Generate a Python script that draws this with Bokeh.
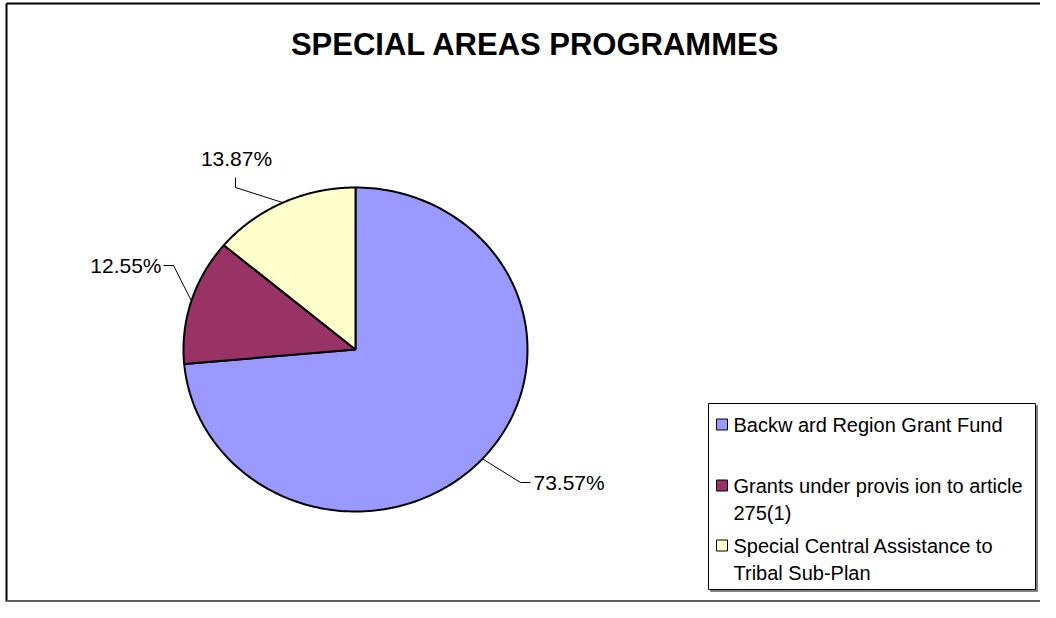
import numpy as np
from bokeh.plotting import figure
from bokeh.models import Range1d
from bokeh.core.properties import value
from bokeh.embed import file_html
from bokeh.resources import INLINE

# ---------------- data ----------------
title = "SPECIAL AREAS PROGRAMMES"
categories = ["Backw ard Region Grant Fund",
              "Grants under provis ion to article 275(1)",
              "Special Central Assistance to Tribal Sub-Plan"]
shares = [73.57, 12.55, 13.87]
pct_labels = ["73.57%", "12.55%", "13.87%"]
legend_lines = [["Backw ard Region Grant Fund"],
                ["Grants under provis ion to article", "275(1)"],
                ["Special Central Assistance to", "Tribal Sub-Plan"]]
colors = ["#9999FF", "#993366", "#FFFFCC"]

# ---------------- layout ----------------
W, H = 1040, 602
FONT = value("Liberation Sans")
CX, CY, RX, RY = 355, 349, 172, 162

p = figure(width=W, height=H, output_backend="svg", toolbar_location=None,
           x_range=Range1d(0, W), y_range=Range1d(H, 0),
           x_axis_location=None, y_axis_location=None, min_border=0,
           background_fill_color="white", border_fill_color="white")
p.grid.visible = False
p.outline_line_color = None

# chart border (left, top, bottom)
p.line([6, 6], [3, H - 1], line_color="black", line_width=2)
p.line([6, W], [3, 3], line_color="black", line_width=2)
p.line([6, W], [H - 1.5, H - 1.5], line_color="#606060", line_width=2)

# ---------------- pie ----------------
total = sum(shares)
cum = np.concatenate([[0], np.cumsum(shares)]) / total * 2 * np.pi  # clockwise from top
xs, ys, mids = [], [], []
for i in range(len(shares)):
    phi = np.linspace(cum[i], cum[i + 1], 200)
    xs.append(np.concatenate([[CX], CX + RX * np.sin(phi), [CX]]).tolist())
    ys.append(np.concatenate([[CY], CY - RY * np.cos(phi), [CY]]).tolist())
    mids.append((cum[i] + cum[i + 1]) / 2)
p.patches(xs, ys, fill_color=colors, line_color="black", line_width=2)

# ---------------- labels with leader lines ----------------
elbows = [(520, 482), (173, 265), (235, 187)]
ends = [(530, 482), (163, 265), (235, 177)]
anchors = [(533, 482), (161, 265), (236, 158)]
aligns = ["left", "right", "center"]
for i in range(len(shares)):
    ex = CX + RX * np.sin(mids[i])
    ey = CY - RY * np.cos(mids[i])
    p.line([ex, elbows[i][0], ends[i][0]], [ey, elbows[i][1], ends[i][1]],
           line_color="black", line_width=1)
    p.text(x=[anchors[i][0]], y=[anchors[i][1]], text=[pct_labels[i]],
           text_font=FONT, text_font_size="21px", text_color="black",
           text_align=aligns[i], text_baseline="middle")

# ---------------- title ----------------
p.text(x=[535], y=[44], text=[title], text_font=FONT, text_font_size="31px",
       text_font_style="bold", text_color="black", text_align="center",
       text_baseline="middle")

# ---------------- legend ----------------
LX0, LX1, LY0, LY1 = 708, 1035, 403, 589
p.quad(left=[LX0 + 2], right=[LX1 + 2], top=[LY0 + 2], bottom=[LY1 + 2],
       fill_color="#808080", line_color="#808080")
p.quad(left=[LX0], right=[LX1], top=[LY0], bottom=[LY1],
       fill_color="white", line_color="black", line_width=1)
item_y = [424, 485, 545]
line_gap = 27
for i, lines in enumerate(legend_lines):
    y0 = item_y[i]
    p.quad(left=[716], right=[727], top=[y0 - 5.5], bottom=[y0 + 5.5],
           fill_color=colors[i], line_color="black", line_width=1)
    p.text(x=[733] * len(lines), y=[y0 + k * line_gap for k in range(len(lines))],
           text=lines, text_font=FONT, text_font_size="20px", text_color="black",
           text_align="left", text_baseline="middle")

open("out.html", "w").write(file_html(p, INLINE))
